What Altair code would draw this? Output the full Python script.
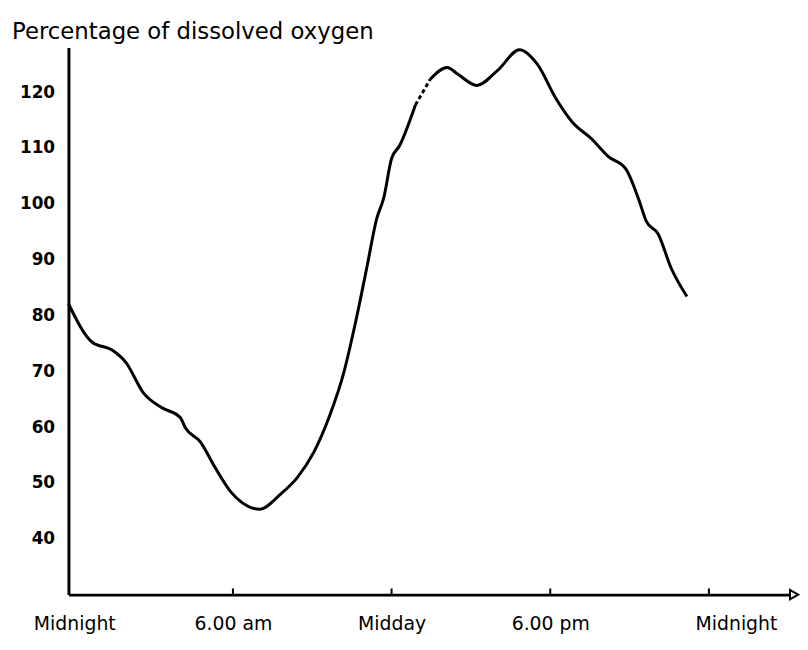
import altair as alt
import pandas as pd

# Curve (hours after midnight, % dissolved oxygen)
hours = [-0.22, 0.68, 1.43, 1.95, 2.62, 3.30, 4.01, 4.20, 4.76, 5.32, 5.92, 7.01, 7.80,
         8.44, 9.07, 9.67, 10.20, 10.61, 11.06, 11.44, 11.70, 12.00, 12.30, 12.90,
         13.46, 14.10, 14.51, 15.22, 16.01, 16.84, 17.51, 18.22, 18.82, 19.57,
         20.21, 20.85, 21.33, 21.63, 22.08, 22.57, 23.17]
oxygen = [82.1, 75.2, 73.8, 71.6, 66.1, 63.5, 61.7, 59.9, 57.4, 52.8, 48.4, 45.3, 48.0,
          51.0, 55.6, 62.2, 69.9, 78.2, 88.5, 97.4, 101.0, 108.1, 110.4, 117.7,
          122.3, 124.4, 123.2, 121.2, 123.9, 127.6, 125.0, 118.8, 114.7, 111.6,
          108.4, 106.3, 101.0, 96.9, 94.6, 88.5, 83.4]
# which stretch of the pen line: 0 solid, 2 solid (the dashed bit is separate)
parts = [0] * 24 + [2] * 17
dashed_hours = [12.90, 13.46]
dashed_oxygen = [117.7, 122.3]

y_ticks = [40, 50, 60, 70, 80, 90, 100, 110, 120]
x_ticks = [0, 6, 12, 18, 24]
x_labels = ["Midnight", "6.00 am", "Midday", "6.00 pm", "Midnight"]
tick_marks = [6, 12, 18, 24]

X_MIN, X_MAX = -0.22, 27.07
Y_MIN, Y_MAX = 30, 128

df = pd.DataFrame({"h": hours, "v": oxygen, "part": parts})
df_dash = pd.DataFrame({"h": dashed_hours, "v": dashed_oxygen})
df_ticks = pd.DataFrame({"h": tick_marks, "y0": [Y_MIN] * 4, "y1": [Y_MIN + 1.1] * 4})
df_arrow = pd.DataFrame({"h": [X_MAX + 0.15], "v": [Y_MIN]})

label_map = "{" + ", ".join(f"'{t}': '{l}'" for t, l in zip(x_ticks, x_labels)) + "}"
font = "DejaVu Sans"

xs = alt.Scale(domain=[X_MIN, X_MAX], nice=False, zero=False)
ys = alt.Scale(domain=[Y_MIN, Y_MAX], nice=False, zero=False)

x_axis = alt.Axis(values=x_ticks, labelExpr=f"{label_map}[datum.value + '']",
                  title=None, grid=False, ticks=False, domainWidth=3, domainColor="black",
                  labelFont=font, labelFontSize=19, labelPadding=20, labelColor="black",
                  labelAlign={"condition": {"test": "datum.value == 24", "value": "left"},
                              "value": "center"},
                  labelOffset={"condition": {"test": "datum.value == 24", "value": -14},
                               "value": 0},
                  labelFlush=False, labelOverlap=False)
y_axis = alt.Axis(values=y_ticks, title=None, grid=False, ticks=False, domainWidth=3,
                  domainColor="black", labelFont=font, labelFontSize=17, labelFontWeight="bold",
                  labelPadding=14, labelColor="black")

line = alt.Chart(df).mark_line(color="black", strokeWidth=3, interpolate="monotone").encode(
    x=alt.X("h:Q", scale=xs, axis=x_axis),
    y=alt.Y("v:Q", scale=ys, axis=y_axis),
    detail="part:N",
)
dash = alt.Chart(df_dash).mark_line(color="black", strokeWidth=3, strokeDash=[4, 3]).encode(
    x=alt.X("h:Q", scale=xs), y=alt.Y("v:Q", scale=ys))
ticks = alt.Chart(df_ticks).mark_rule(color="black", strokeWidth=2).encode(
    x=alt.X("h:Q", scale=xs), y=alt.Y("y0:Q", scale=ys), y2="y1:Q")
arrow = alt.Chart(df_arrow).mark_point(shape="triangle-right", filled=True, fill="white",
                                       stroke="black", strokeWidth=2, size=90, opacity=1).encode(
    x=alt.X("h:Q", scale=xs), y=alt.Y("v:Q", scale=ys))

chart = alt.layer(line, dash, ticks, arrow).properties(
    width=728, height=552,
    autosize=alt.AutoSizeParams(type="none"),
    padding={"left": 61, "top": 37, "right": 10, "bottom": 45},
    title=alt.Title("Percentage of dissolved oxygen", anchor="start", frame="group",
                    font=font, fontSize=23, fontWeight="normal", color="black",
                    dx=-57, dy=20, offset=2, baseline="alphabetic"),
).configure_view(stroke=None).configure_axis(labelFont=font)

chart.save("out.html", embed_options={"renderer": "svg", "actions": False})
